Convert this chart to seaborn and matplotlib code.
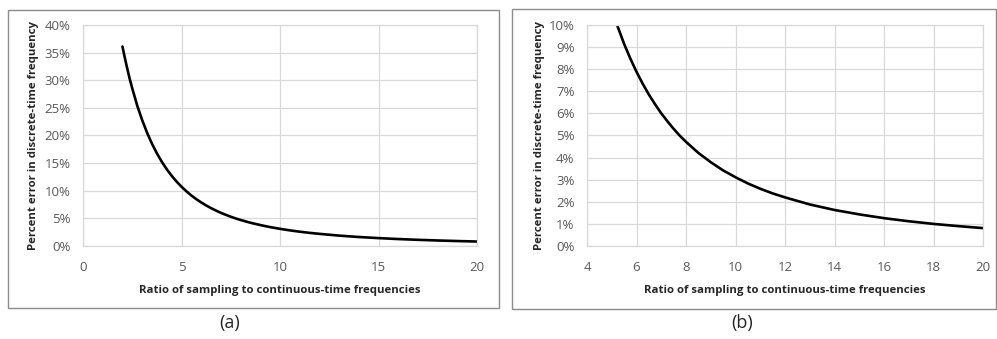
import matplotlib
matplotlib.use("Agg")
import matplotlib.pyplot as plt
import seaborn as sns
import pandas as pd
from matplotlib.ticker import FuncFormatter
from matplotlib.patches import Rectangle

ratio = [2.0, 2.1, 2.2, 2.35, 2.5, 2.75, 3.0, 3.25, 3.5, 3.75, 4.0, 4.25, 4.5, 4.75, 5.0,
         5.25, 5.5, 5.75, 6.0, 6.25, 6.5, 6.75, 7.0, 7.25, 7.5, 7.75, 8.0, 8.5, 9.0, 9.5,
         10.0, 10.5, 11.0, 11.5, 12.0, 13.0, 14.0, 15.0, 16.0, 17.0, 18.0, 19.0, 20.0]
error_pct = [36.1, 34.4, 32.8, 30.5, 28.5, 25.4, 22.8, 20.5, 18.5, 16.76, 15.23, 13.89, 12.7, 11.65, 10.72,
             9.89, 9.14, 8.48, 7.88, 7.34, 6.85, 6.41, 6.0, 5.64, 5.3, 4.99, 4.71, 4.21, 3.79, 3.42,
             3.11, 2.83, 2.59, 2.38, 2.2, 1.88, 1.63, 1.43, 1.26, 1.12, 1.0, 0.9, 0.81]

xlabel = "Ratio of sampling to continuous-time frequencies"
ylabel = "Percent error in discrete-time frequency"
panel_tags = ["(a)", "(b)"]

df = pd.DataFrame({"ratio": ratio, "err": error_pct})

sns.set_theme(style="white")
plt.rcParams["font.family"] = ["Open Sans", "DejaVu Sans"]

fig = plt.figure(figsize=(9.97, 3.39), dpi=100)

# panel frames
for (x0, w, y0, h) in [(0.008, 0.4925, 0.0914, 0.879), (0.5135, 0.4855, 0.0885, 0.885)]:
    fig.patches.append(Rectangle((x0, y0), w, h, transform=fig.transFigure,
                                 fill=False, edgecolor="#8c8c8c", linewidth=1.0))

ax_a = fig.add_axes([0.0833, 0.2743, 0.3952, 0.652])
ax_b = fig.add_axes([0.5888, 0.2743, 0.3972, 0.652])

configs = [
    (ax_a, (0, 20), list(range(0, 21, 5)), (0, 40), list(range(0, 41, 5)), -0.112),
    (ax_b, (4, 20), list(range(4, 21, 2)), (0, 10), list(range(0, 11, 1)), -0.106),
]

for ax, xl, xt, yl, yt, ylx in configs:
    sns.lineplot(data=df, x="ratio", y="err", ax=ax, color="black", linewidth=1.9)
    ax.set_xlim(*xl)
    ax.set_ylim(*yl)
    ax.set_xticks(xt)
    ax.set_yticks(yt)
    ax.yaxis.set_major_formatter(FuncFormatter(lambda v, p: f"{int(round(v))}%"))
    ax.grid(True, color="#d9d9d9", linewidth=0.9)
    for s in ax.spines.values():
        s.set_color("#d9d9d9")
        s.set_linewidth(0.9)
    ax.tick_params(axis="both", length=0, labelsize=9.5, labelcolor="#595959")
    ax.tick_params(axis="x", pad=11)
    ax.tick_params(axis="y", pad=9)
    ax.set_xlabel(xlabel, fontsize=8.2, fontweight="bold", color="#262626")
    ax.set_ylabel(ylabel, fontsize=8.2, fontweight="bold", color="#262626")
    ax.xaxis.set_label_coords(0.5, -0.176)
    ax.yaxis.set_label_coords(ylx, 0.5)

fig.text(0.2307, 0.047, panel_tags[0], ha="center", va="center", fontsize=13, color="#262626")
fig.text(0.744, 0.047, panel_tags[1], ha="center", va="center", fontsize=13, color="#262626")

fig.savefig("out.png", dpi=100)
